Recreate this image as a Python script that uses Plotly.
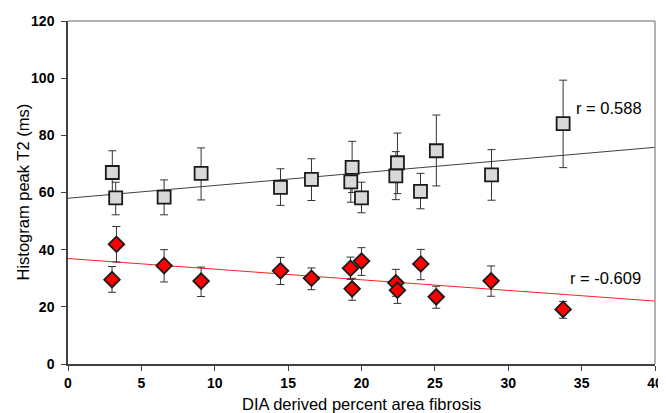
import plotly.graph_objects as go

# Gray squares (upper series)
sq_x = [3.02, 3.25, 6.55, 9.07, 14.48, 16.59, 19.27, 19.36, 20.0, 22.34, 22.45, 24.02, 25.1, 28.86, 33.74]
sq_y = [67.0, 58.1, 58.4, 66.7, 61.8, 64.6, 63.7, 68.8, 58.1, 65.8, 70.4, 60.4, 74.6, 66.2, 84.1]
sq_up = [74.6, 63.6, 64.4, 75.6, 68.3, 71.8, 70.5, 77.9, 63.6, 74.3, 80.8, 66.7, 87.1, 75.0, 99.3]
sq_lo = [59.5, 52.2, 52.2, 57.4, 55.5, 57.2, 56.6, 60.0, 52.9, 57.5, 59.6, 54.3, 62.3, 57.3, 68.7]

# Red diamonds (lower series)
di_x = [3.0, 3.3, 6.55, 9.07, 14.48, 16.59, 19.25, 19.36, 20.0, 22.34, 22.45, 24.04, 25.09, 28.83, 33.74]
di_y = [29.5, 41.9, 34.4, 29.0, 32.6, 30.0, 33.5, 26.3, 36.0, 28.4, 25.8, 35.0, 23.5, 29.1, 19.1]
di_up = [34.1, 48.1, 40.0, 33.9, 37.3, 33.6, 37.4, 30.0, 40.7, 33.1, 29.5, 40.1, 27.2, 34.3, 21.9]
di_lo = [25.1, 35.7, 28.7, 23.6, 27.8, 26.0, 29.6, 22.3, 31.0, 23.7, 21.2, 29.5, 19.5, 23.7, 16.0]

# Regression lines (intercept, slope) and labels
fit_x = [0, 40]
sq_fit = (58.0, 0.445)
di_fit = (36.9, -0.372)
sq_label = "r = 0.588"
di_label = "r = -0.609"

x_ticks = [0, 5, 10, 15, 20, 25, 30, 35, 40]
y_ticks = [0, 20, 40, 60, 80, 100, 120]
x_title = "DIA derived percent area fibrosis"
y_title = "Histogram peak T2 (ms)"

FONT = "Liberation Sans, Arial, sans-serif"

def err(vals, bounds, upper):
    return [(b - v) if upper else (v - b) for v, b in zip(vals, bounds)]

fig = go.Figure()

fig.add_trace(go.Scatter(
    x=fit_x, y=[sq_fit[0] + sq_fit[1] * v for v in fit_x],
    mode="lines", line=dict(color="#404040", width=1), hoverinfo="skip"))
fig.add_trace(go.Scatter(
    x=fit_x, y=[di_fit[0] + di_fit[1] * v for v in fit_x],
    mode="lines", line=dict(color="#ff2020", width=1), hoverinfo="skip"))

fig.add_trace(go.Scatter(
    x=sq_x, y=sq_y, mode="markers",
    marker=dict(symbol="square", size=13, color="#d9d9d9",
                line=dict(color="#1a1a1a", width=1.8)),
    error_y=dict(type="data", symmetric=False,
                 array=err(sq_y, sq_up, True), arrayminus=err(sq_y, sq_lo, False),
                 color="#333333", thickness=1, width=4)))

fig.add_trace(go.Scatter(
    x=di_x, y=di_y, mode="markers",
    marker=dict(symbol="diamond", size=12, color="#ff0000",
                line=dict(color="#1a1a1a", width=1.8)),
    error_y=dict(type="data", symmetric=False,
                 array=err(di_y, di_up, True), arrayminus=err(di_y, di_lo, False),
                 color="#333333", thickness=1, width=4)))

fig.add_annotation(x=34.45, y=89.7, text=sq_label, showarrow=False, xanchor="left",
                   font=dict(family=FONT, size=16.5, color="#000"))
fig.add_annotation(x=34.05, y=30.2, text=di_label, showarrow=False, xanchor="left",
                   font=dict(family=FONT, size=16.5, color="#000"))

# axis titles
fig.add_annotation(xref="paper", yref="paper", x=0.5, y=0, yshift=-40, xanchor="center",
                   yanchor="middle", text=x_title, showarrow=False,
                   font=dict(family=FONT, size=16.5, color="#000"))
fig.add_annotation(xref="paper", yref="paper", x=0, y=0.5, xshift=-46, yshift=0,
                   xanchor="center", yanchor="middle", textangle=-90, text=y_title,
                   showarrow=False, font=dict(family=FONT, size=16.5, color="#000"))

# gray top and right frame
fig.add_shape(type="line", xref="paper", yref="paper", x0=0, x1=1, y0=1, y1=1,
              line=dict(color="#999999", width=1.5))
fig.add_shape(type="line", xref="paper", yref="paper", x0=1, x1=1, y0=0, y1=1,
              line=dict(color="#999999", width=1.5))

# page body has an 8px margin, so the figure is drawn 8px in from the top-left
fig.update_layout(
    width=658, height=405,
    margin=dict(l=60, r=11, t=13, b=49, autoexpand=False),
    paper_bgcolor="white", plot_bgcolor="white",
    showlegend=False,
    font=dict(family=FONT, color="#000"),
    xaxis=dict(range=[0, 40], tickvals=x_ticks, ticktext=[f"<b>{t}</b>" for t in x_ticks],
               showgrid=False, zeroline=False, showline=True, linecolor="#404040", linewidth=1.5,
               ticks="outside", ticklen=5, tickcolor="#404040", tickfont=dict(size=14),
               automargin=False),
    yaxis=dict(range=[0, 120], tickvals=y_ticks, ticktext=[f"<b>{t}</b>" for t in y_ticks],
               showgrid=False, zeroline=False, showline=True, linecolor="#404040", linewidth=1.5,
               ticks="outside", ticklen=5, tickcolor="#404040", tickfont=dict(size=14),
               ticklabelstandoff=4, automargin=False),
)

fig.write_html("out.html")
